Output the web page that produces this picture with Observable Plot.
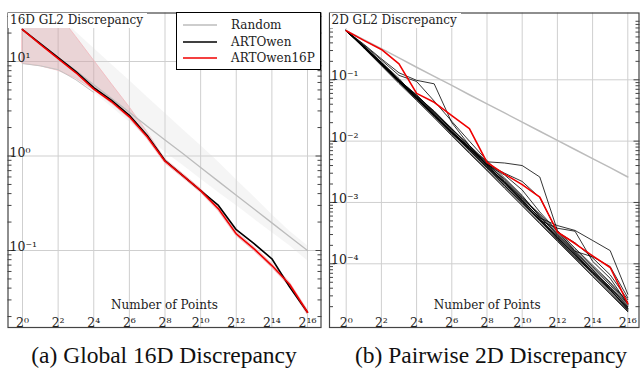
<!DOCTYPE html>
<html><head><meta charset="utf-8">
<script src="https://cdn.jsdelivr.net/npm/d3@7"></script>
<script src="https://cdn.jsdelivr.net/npm/@observablehq/plot@0.6"></script>
<style>
body{margin:0;background:#fff;}
#fig{position:relative;width:641px;height:372px;overflow:hidden;background:#fff;}
.panel{position:absolute;top:0;}
.panel svg text{font-family:"DejaVu Serif",serif;}
.ttl{position:absolute;background:#fff;font-family:"DejaVu Serif",serif;font-size:12px;color:#222;line-height:14px;padding:0 4px 1px 2px;white-space:nowrap;}
.legend{position:absolute;background:#fff;border:1px solid #000;font-family:"DejaVu Serif",serif;font-size:12px;color:#222;box-sizing:border-box;}
.legend .row{position:absolute;left:0;height:16px;display:flex;align-items:center;}
.legend svg{margin-left:6px;margin-right:14px;}
.cap{position:absolute;top:343px;font-family:"Liberation Serif","Times New Roman",Times,serif;font-size:23.5px;color:#111;white-space:nowrap;transform:translateX(-50%);line-height:1.1;}
</style></head>
<body>
<div id="fig">
  <div id="left" class="panel" style="left:0"></div>
  <div id="right" class="panel" style="left:320px"></div>
  <div class="ttl" style="left:8px;top:13px">16D GL2 Discrepancy</div>
  <div class="ttl" style="left:329.5px;top:13px">2D GL2 Discrepancy</div>
  <div class="legend" id="legend" style="left:176px;top:12px;width:145px;height:58px"></div>
  <div class="cap" style="left:164px">(a) Global 16D Discrepancy</div>
  <div class="cap" style="left:491px">(b) Pairwise 2D Discrepancy</div>
</div>
<script>
// ---------- data ----------
const N = [1, 2, 4, 8, 16, 32, 64, 128, 256, 512, 1024, 2048, 4096, 8192, 16384, 32768, 65536];
const xTicks = [1, 4, 16, 64, 256, 1024, 4096, 16384, 65536];
const xTickLabels = ["2⁰", "2²", "2⁴", "2⁶", "2⁸", "2¹⁰", "2¹²", "2¹⁴", "2¹⁶"];
const xLabel = "Number of Points";

const yTicks16 = [10, 1, 0.1];
const yTickLabels16 = ["10¹", "10⁰", "10⁻¹"];
const yMinor16 = [0.02,0.03,0.04,0.05,0.06,0.07,0.08,0.09,0.2,0.3,0.4,0.5,0.6,0.7,0.8,0.9,2,3,4,5,6,7,8,9,20,30];

const yTicks2 = [0.1, 0.01, 0.001, 0.0001];
const yTickLabels2 = ["10⁻¹", "10⁻²", "10⁻³", "10⁻⁴"];
const yMinor2 = [2e-5,3e-5,4e-5,5e-5,6e-5,7e-5,8e-5,9e-5,2e-4,3e-4,4e-4,5e-4,6e-4,7e-4,8e-4,9e-4,
                 0.002,0.003,0.004,0.005,0.006,0.007,0.008,0.009,0.02,0.03,0.04,0.05,0.06,0.07,0.08,0.09,
                 0.2,0.3,0.4,0.5,0.6,0.7,0.8,0.9];

const seriesNames = ["Random", "ARTOwen", "ARTOwen16P"];

// 16D global discrepancy
const random16   = [21.8, 15.6, 11.1, 7.96, 5.69, 4.06, 2.9, 2.07, 1.48, 1.06, 0.755, 0.539, 0.385, 0.275, 0.196, 0.14, 0.1];
const random16Lo = [9.5, 9.0, 8.2, 6.4, 4.7, 3.3, 2.3, 1.55, 1.1, 0.8, 0.57, 0.41, 0.3, 0.215, 0.155, 0.112, 0.078];
const random16Hi = [80, 55, 32, 20.5, 13.8, 9.3, 6.3, 4.2, 2.84, 1.91, 1.29, 0.865, 0.56, 0.37, 0.24, 0.16, 0.112];
const artOwen16  = [21.8, 15.5, 11.0, 7.8, 5.3, 3.87, 2.69, 1.65, 0.895, 0.62, 0.43, 0.3, 0.166, 0.118, 0.0817, 0.041, 0.0222];
const artOwen16P = [21.8, 15.2, 10.7, 7.6, 5.1, 3.75, 2.6, 1.6, 0.88, 0.62, 0.43, 0.276, 0.15, 0.104, 0.0693, 0.0437, 0.0222];
const artOwen16PLo = [9.5, 8.9, 8.0, 6.6, 5.0, 3.6, 2.5, 1.52, 0.84, 0.59, 0.41, 0.262, 0.143, 0.099, 0.066, 0.0415, 0.021];
const artOwen16PHi = [100, 57, 32, 18.3, 10.3, 5.8, 3.3, 1.8, 0.93, 0.65, 0.45, 0.29, 0.158, 0.109, 0.073, 0.046, 0.0235];

// 2D pairwise discrepancy
const random2 = [0.63, 0.45, 0.322, 0.228, 0.16, 0.114, 0.081, 0.057, 0.0405, 0.0288, 0.0204, 0.0145, 0.0103, 0.0073, 0.0052, 0.0037, 0.0026];
const artOwen16P2 = [0.63, 0.44, 0.312, 0.182, 0.06, 0.043, 0.026, 0.016, 0.0045, 0.0029, 0.00195, 0.00122, 0.00033, 0.000214, 0.000135, 8.7e-5, 2.24e-5];
const artOwen2Pairs = [
  [0.63, 0.33, 0.17, 0.087, 0.046, 0.024, 0.0122, 0.0063, 0.0033, 0.0017, 0.00088, 0.00045, 0.000232, 0.00012, 6.2e-5, 3.2e-5, 1.65e-5],
  [0.63, 0.34, 0.178, 0.092, 0.048, 0.025, 0.0128, 0.0066, 0.0034, 0.00178, 0.00092, 0.00047, 0.000242, 0.000125, 6.5e-5, 3.35e-5, 1.7e-5],
  [0.63, 0.35, 0.186, 0.096, 0.05, 0.026, 0.0135, 0.007, 0.0036, 0.00187, 0.00097, 0.0005, 0.000255, 0.000133, 6.9e-5, 3.5e-5, 1.8e-5],
  [0.63, 0.345, 0.18, 0.1, 0.052, 0.0265, 0.0132, 0.0075, 0.0039, 0.0019, 0.001, 0.00052, 0.00025, 0.000128, 7.2e-5, 3.9e-5, 1.75e-5],
  [0.63, 0.34, 0.19, 0.094, 0.055, 0.028, 0.0145, 0.0072, 0.0037, 0.0021, 0.00105, 0.00051, 0.00027, 0.000142, 7e-5, 3.7e-5, 1.85e-5],
  [0.63, 0.36, 0.195, 0.105, 0.05, 0.027, 0.014, 0.0078, 0.0042, 0.002, 0.0011, 0.00056, 0.00026, 0.00014, 7.6e-5, 4e-5, 2e-5],
  [0.63, 0.35, 0.185, 0.098, 0.057, 0.03, 0.0152, 0.0074, 0.0038, 0.0022, 0.00112, 0.00054, 0.00028, 0.00015, 8e-5, 3.8e-5, 1.9e-5],
  [0.63, 0.335, 0.175, 0.09, 0.049, 0.0255, 0.0138, 0.0082, 0.0045, 0.0023, 0.0012, 0.0006, 0.00029, 0.000145, 7.4e-5, 4.2e-5, 2.1e-5],
  [0.63, 0.34, 0.18, 0.095, 0.053, 0.029, 0.0155, 0.0085, 0.0041, 0.0024, 0.00125, 0.00062, 0.00031, 0.00016, 8.5e-5, 4.5e-5, 2.2e-5],
  [0.63, 0.355, 0.19, 0.1, 0.054, 0.031, 0.016, 0.0079, 0.0044, 0.0022, 0.00118, 0.00065, 0.00033, 0.00017, 9e-5, 4.8e-5, 2.3e-5],
  [0.63, 0.38, 0.22, 0.13, 0.098, 0.086, 0.02, 0.0085, 0.004, 0.0021, 0.00105, 0.00052, 0.00027, 0.000138, 7.3e-5, 3.7e-5, 1.9e-5],
  [0.63, 0.37, 0.21, 0.118, 0.094, 0.045, 0.021, 0.01, 0.0048, 0.0025, 0.0013, 0.00058, 0.0003, 0.000155, 8e-5, 4.1e-5, 2e-5],
  [0.63, 0.35, 0.19, 0.1, 0.056, 0.03, 0.016, 0.0085, 0.0046, 0.0044, 0.004, 0.0026, 0.00035, 0.00018, 9.5e-5, 5e-5, 2.4e-5],
  [0.63, 0.34, 0.18, 0.095, 0.05, 0.027, 0.014, 0.0075, 0.0042, 0.003, 0.0022, 0.0012, 0.00033, 0.00022, 0.000125, 6.6e-5, 2.6e-5],
  [0.63, 0.345, 0.185, 0.097, 0.052, 0.028, 0.0145, 0.0078, 0.004, 0.0021, 0.0011, 0.00056, 0.00042, 0.00035, 0.00024, 0.000164, 3.2e-5],
  [0.63, 0.34, 0.176, 0.092, 0.049, 0.026, 0.0136, 0.0071, 0.0037, 0.0019, 0.001, 0.00051, 0.00038, 0.00034, 0.00011, 5.8e-5, 2.2e-5],
  [0.63, 0.35, 0.18, 0.093, 0.051, 0.027, 0.0142, 0.0076, 0.0041, 0.0028, 0.0016, 0.0007, 0.00034, 0.00016, 0.00013, 9e-5, 2.8e-5]
];

// ---------- styles ----------
const GRID = "#cfcfcf", GRAY = "#bcbcbc", RED = "#f00000", BLACK = "#000", FRAME = "#444";
const FONT = "DejaVu Serif";

const pts = (vals, s) => vals.map((v, i) => ({n: N[i], v, s}));
const band = (lo, hi) => lo.map((v, i) => ({n: N[i], lo: v, hi: hi[i]}));

function axisMarks(yTicks, yMinor) {
  return [
    Plot.gridX(xTicks, {stroke: GRID, strokeOpacity: 1, strokeWidth: 1}),
    Plot.gridY(yTicks, {stroke: GRID, strokeOpacity: 1, strokeWidth: 1}),
    Plot.axisY(yMinor, {anchor: "left", tickSize: -4, tickFormat: () => "", stroke: FRAME, label: null}),
    Plot.axisY(yMinor, {anchor: "right", tickSize: -4, tickFormat: () => "", stroke: FRAME, label: null}),
    Plot.axisY(yTicks, {anchor: "left", tickSize: -6, tickFormat: () => "", stroke: FRAME, label: null}),
    Plot.axisY(yTicks, {anchor: "right", tickSize: -6, tickFormat: () => "", stroke: FRAME, label: null})
  ];
}
function labelMarks(yTicks, yLabels, xlabDx) {
  return [
    Plot.text(xTicks, {x: d => d, text: (d, i) => xTickLabels[i], frameAnchor: "bottom", lineAnchor: "bottom", dy: -1, fontSize: 12.5, fontFamily: FONT, fill: "#222"}),
    Plot.text(yTicks, {y: d => d, text: (d, i) => yLabels[i], frameAnchor: "left", textAnchor: "start", lineAnchor: "bottom", dx: 1.5, dy: 0.5, fontSize: 12.5, fontFamily: FONT, fill: "#222"}),
    Plot.text([xLabel], {text: d => d, frameAnchor: "bottom", lineAnchor: "bottom", dy: -19, dx: xlabDx, fontSize: 12, fontFamily: FONT, fill: "#222"})
  ];
}

// ---------- left panel ----------
const left = Plot.plot({
  width: 322, height: 340,
  marginLeft: 7.5, marginRight: 1.5, marginTop: 12.5, marginBottom: 13,
  style: {fontFamily: FONT, fontSize: "12px", background: "transparent"},
  x: {type: "log", base: 2, domain: [1, 65536], range: [22, 307], axis: null},
  y: {type: "log", domain: [0.1, 10], range: [250, 61], axis: null},
  marks: [
    ...axisMarks(yTicks16, yMinor16),
    Plot.areaY(band(random16Lo, random16Hi), {x: "n", y1: "lo", y2: "hi", fill: "#d8d8d8", fillOpacity: 0.25, clip: true}),
    Plot.areaY(band(artOwen16PLo, artOwen16PHi), {x: "n", y1: "lo", y2: "hi", fill: "#d08890", fillOpacity: 0.3, stroke: "#f3b8bc", strokeWidth: 0.8, clip: true}),
    Plot.line(pts(random16Lo, "lo"), {x: "n", y: "v", filter: d => d.n <= 16, stroke: "#c4c4c4", strokeWidth: 1, clip: true}),
    Plot.line(pts(random16, seriesNames[0]), {x: "n", y: "v", stroke: GRAY, strokeWidth: 1.3, clip: true}),
    Plot.line(pts(artOwen16, seriesNames[1]), {x: "n", y: "v", stroke: BLACK, strokeWidth: 1.6, clip: true}),
    Plot.line(pts(artOwen16P, seriesNames[2]), {x: "n", y: "v", stroke: RED, strokeWidth: 1.6, clip: true}),
    ...labelMarks(yTicks16, yTickLabels16, 0),
    Plot.frame({stroke: FRAME, strokeWidth: 1.2})
  ]
});
document.getElementById("left").appendChild(left);

// ---------- right panel ----------
const blackRows = artOwen2Pairs.flatMap((vals, k) => pts(vals, "pair" + k));
const right = Plot.plot({
  width: 321, height: 340,
  marginLeft: 9, marginRight: 2.5, marginTop: 12.5, marginBottom: 13,
  style: {fontFamily: FONT, fontSize: "12px", background: "transparent"},
  x: {type: "log", base: 2, domain: [1, 65536], range: [25.7, 307.3], axis: null},
  y: {type: "log", domain: [0.0001, 0.1], range: [263.3, 79.3], axis: null},
  marks: [
    ...axisMarks(yTicks2, yMinor2),
    Plot.line(pts(random2, seriesNames[0]), {x: "n", y: "v", stroke: GRAY, strokeWidth: 1.5, clip: true}),
    Plot.line(blackRows, {x: "n", y: "v", z: "s", stroke: BLACK, strokeWidth: 0.8, clip: true}),
    Plot.line(pts(artOwen16P2, seriesNames[2]), {x: "n", y: "v", stroke: RED, strokeWidth: 1.6, clip: true}),
    ...labelMarks(yTicks2, yTickLabels2, 3),
    Plot.frame({stroke: FRAME, strokeWidth: 1.2})
  ]
});
document.getElementById("right").appendChild(right);

// ---------- legend ----------
const legendColors = [GRAY, BLACK, RED];
const lg = document.getElementById("legend");
seriesNames.forEach((name, i) => {
  const row = document.createElement("div");
  row.className = "row";
  row.style.top = (4 + i * 16.5) + "px";
  row.innerHTML = `<svg width="34" height="4"><line x1="0" x2="34" y1="2" y2="2" stroke="${legendColors[i]}" stroke-width="1.6"/></svg><span>${name}</span>`;
  lg.appendChild(row);
});
</script>
</body></html>
